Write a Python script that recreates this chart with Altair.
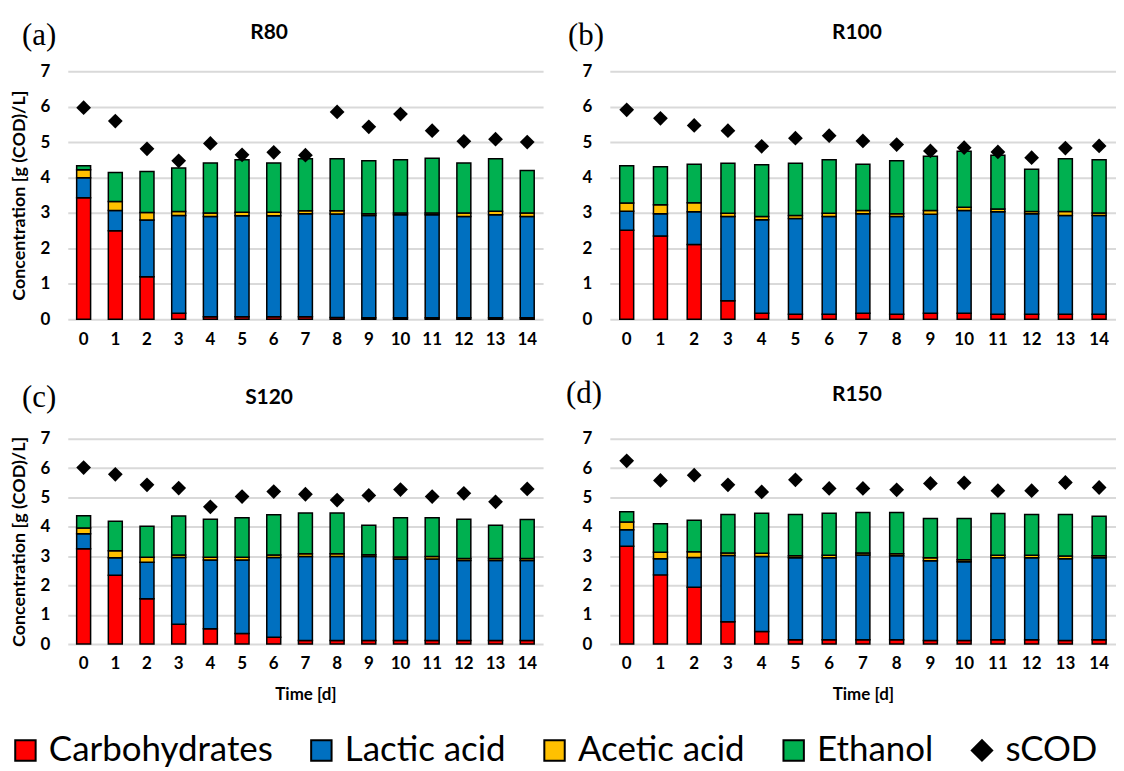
import altair as alt
import pandas as pd

days = list(range(15))
components = ["Carbohydrates", "Lactic acid", "Acetic acid", "Ethanol"]
legend_domain = components + ["sCOD"]
legend_colors = ["#FF0000", "#0070C0", "#FFC000", "#00B050", "#000000"]
legend_shapes = ["square", "square", "square", "square", "diamond"]

panel_names = ["R80", "R100", "S120", "R150"]
panel_letters = ["(a)", "(b)", "(c)", "(d)"]
y_title = "Concentration [g (COD)/L]"
x_title = "Time [d]"

# R80
r80_carb = [3.43, 2.50, 1.20, 0.17, 0.07, 0.07, 0.07, 0.07, 0.05, 0.04, 0.04, 0.04, 0.04, 0.04, 0.04]
r80_lactic = [0.56, 0.57, 1.60, 2.76, 2.83, 2.85, 2.85, 2.91, 2.92, 2.89, 2.91, 2.91, 2.86, 2.91, 2.86]
r80_acetic = [0.23, 0.25, 0.21, 0.11, 0.10, 0.10, 0.10, 0.08, 0.09, 0.05, 0.05, 0.05, 0.10, 0.10, 0.10]
r80_ethanol = [0.11, 0.82, 1.16, 1.23, 1.41, 1.48, 1.39, 1.47, 1.47, 1.49, 1.50, 1.54, 1.41, 1.48, 1.20]
r80_scod = [5.97, 5.59, 4.81, 4.47, 4.96, 4.64, 4.71, 4.63, 5.85, 5.43, 5.79, 5.32, 5.02, 5.08, 5.00]

# R100
r100_carb = [2.51, 2.35, 2.11, 0.52, 0.17, 0.14, 0.14, 0.17, 0.14, 0.17, 0.17, 0.14, 0.14, 0.14, 0.14]
r100_lactic = [0.54, 0.63, 0.92, 2.38, 2.64, 2.70, 2.76, 2.81, 2.76, 2.79, 2.90, 2.89, 2.84, 2.79, 2.79]
r100_acetic = [0.23, 0.25, 0.26, 0.09, 0.09, 0.09, 0.09, 0.09, 0.08, 0.11, 0.09, 0.08, 0.06, 0.11, 0.07]
r100_ethanol = [1.05, 1.07, 1.08, 1.41, 1.46, 1.47, 1.51, 1.30, 1.49, 1.53, 1.58, 1.52, 1.19, 1.49, 1.50]
r100_scod = [5.91, 5.67, 5.47, 5.32, 4.88, 5.11, 5.18, 5.03, 4.93, 4.75, 4.84, 4.72, 4.56, 4.83, 4.89]

# S120
s120_carb = [3.25, 2.35, 1.55, 0.68, 0.52, 0.36, 0.23, 0.12, 0.12, 0.12, 0.12, 0.12, 0.12, 0.12, 0.12]
s120_lactic = [0.51, 0.59, 1.24, 2.27, 2.35, 2.51, 2.72, 2.87, 2.87, 2.87, 2.78, 2.78, 2.73, 2.73, 2.73]
s120_acetic = [0.20, 0.24, 0.17, 0.09, 0.09, 0.09, 0.09, 0.09, 0.09, 0.06, 0.07, 0.09, 0.07, 0.07, 0.07]
s120_ethanol = [0.42, 1.01, 1.06, 1.33, 1.30, 1.35, 1.37, 1.39, 1.39, 1.00, 1.34, 1.32, 1.34, 1.13, 1.33]
s120_scod = [6.02, 5.79, 5.43, 5.32, 4.68, 5.03, 5.20, 5.11, 4.91, 5.07, 5.27, 5.03, 5.14, 4.85, 5.29]

# R150
r150_carb = [3.34, 2.36, 1.94, 0.76, 0.43, 0.15, 0.15, 0.15, 0.15, 0.12, 0.12, 0.15, 0.15, 0.12, 0.15]
r150_lactic = [0.56, 0.55, 1.01, 2.26, 2.56, 2.79, 2.79, 2.89, 2.86, 2.72, 2.69, 2.79, 2.79, 2.79, 2.79]
r150_acetic = [0.26, 0.22, 0.20, 0.09, 0.11, 0.07, 0.09, 0.07, 0.07, 0.10, 0.07, 0.09, 0.09, 0.09, 0.07]
r150_ethanol = [0.35, 0.97, 1.07, 1.31, 1.36, 1.41, 1.43, 1.38, 1.41, 1.34, 1.40, 1.42, 1.39, 1.42, 1.35]
r150_scod = [6.25, 5.58, 5.76, 5.43, 5.19, 5.60, 5.31, 5.31, 5.26, 5.48, 5.50, 5.23, 5.23, 5.51, 5.34]

FONT = "Lato"

color_scale = alt.Scale(domain=legend_domain, range=legend_colors)
shape_scale = alt.Scale(domain=legend_domain, range=legend_shapes)
legend = alt.Legend(
    orient="none", legendX=-60, legendY=664, direction="horizontal", title=None,
    labelFont=FONT, labelFontSize=35, labelColor="black", labelLimit=500,
    symbolSize=420, symbolStrokeColor="black", symbolStrokeWidth=2,
    columnPadding=31, labelOffset=6, padding=0,
)


def make_panel(idx, carb, lactic, acetic, ethanol, scod, w, h, show_y, show_x,
               lx, ly, tx, ty):
    rows = []
    for j, d in enumerate(days):
        for k, vals in enumerate([carb, lactic, acetic, ethanol]):
            rows.append({"Day": d, "Component": components[k], "Value": vals[j], "k": k})
    bdf = pd.DataFrame(rows)
    sdf = pd.DataFrame({"Day": days, "Component": ["sCOD"] * len(days), "Value": scod})

    x = alt.X("Day:O", title=x_title if show_x else "",
              scale=alt.Scale(paddingInner=0, paddingOuter=0),
              axis=alt.Axis(labelAngle=0, grid=False, labelPadding=12, titlePadding=15,
                            titleFontSize=17))
    y = alt.Y("Value:Q", stack="zero", title=y_title if show_y else "",
              scale=alt.Scale(domain=[0, 7], nice=False),
              axis=alt.Axis(values=list(range(8)), labelPadding=18, titlePadding=12,
                            titleFontSize=18, labelOverlap=False))

    bars = alt.Chart(bdf).mark_bar(size=14, stroke="black", strokeWidth=1.5).encode(
        x=x, y=y,
        color=alt.Color("Component:N", scale=color_scale, legend=legend),
        order=alt.Order("k:Q"),
    )
    pts = alt.Chart(sdf).mark_point(filled=True, size=220, opacity=1).encode(
        x=x, y=y,
        color=alt.Color("Component:N", scale=color_scale, legend=legend),
        shape=alt.Shape("Component:N", scale=shape_scale, legend=legend),
    )
    lab = alt.Chart(pd.DataFrame({"t": [panel_letters[idx]]})).mark_text(
        font="Liberation Serif", fontSize=31, align="left", baseline="middle", color="black"
    ).encode(text="t:N", x=alt.value(lx), y=alt.value(ly))
    ttl = alt.Chart(pd.DataFrame({"t": [panel_names[idx]]})).mark_text(
        font=FONT, fontSize=21, fontWeight="bold", align="center", baseline="middle",
        color="black"
    ).encode(text="t:N", x=alt.value(tx), y=alt.value(ty))

    return alt.layer(bars, pts, lab, ttl).properties(width=w, height=h)


pa = make_panel(0, r80_carb, r80_lactic, r80_acetic, r80_ethanol, r80_scod, 477, 249,
                True, False, -46, -35, 202, -38)
pb = make_panel(1, r100_carb, r100_lactic, r100_acetic, r100_ethanol, r100_scod, 508, 249,
                False, False, -42, -35, 248, -38)
pc = make_panel(2, s120_carb, s120_lactic, s120_acetic, s120_ethanol, s120_scod, 477, 206,
                True, True, -46, -41, 202, -41)
pd_ = make_panel(3, r150_carb, r150_lactic, r150_acetic, r150_ethanol, r150_scod, 508, 206,
                 False, True, -44, -45, 248, -44)

chart = alt.concat(
    pa, pb, pc, pd_, columns=2, spacing={"row": 120, "column": 67},
    bounds="flush", align="each",
).properties(
    padding={"left": 0, "top": 11, "right": 0, "bottom": 0}
).configure_axis(
    labelFont=FONT, labelFontWeight="bold", labelFontSize=17, labelColor="black",
    titleFont=FONT, titleFontWeight="bold", titleColor="black",
    ticks=False, domain=False, gridColor="#D9D9D9", gridWidth=2,
).configure_view(stroke=None)

chart.save("out.html", embed_options={"renderer": "svg", "actions": False})
